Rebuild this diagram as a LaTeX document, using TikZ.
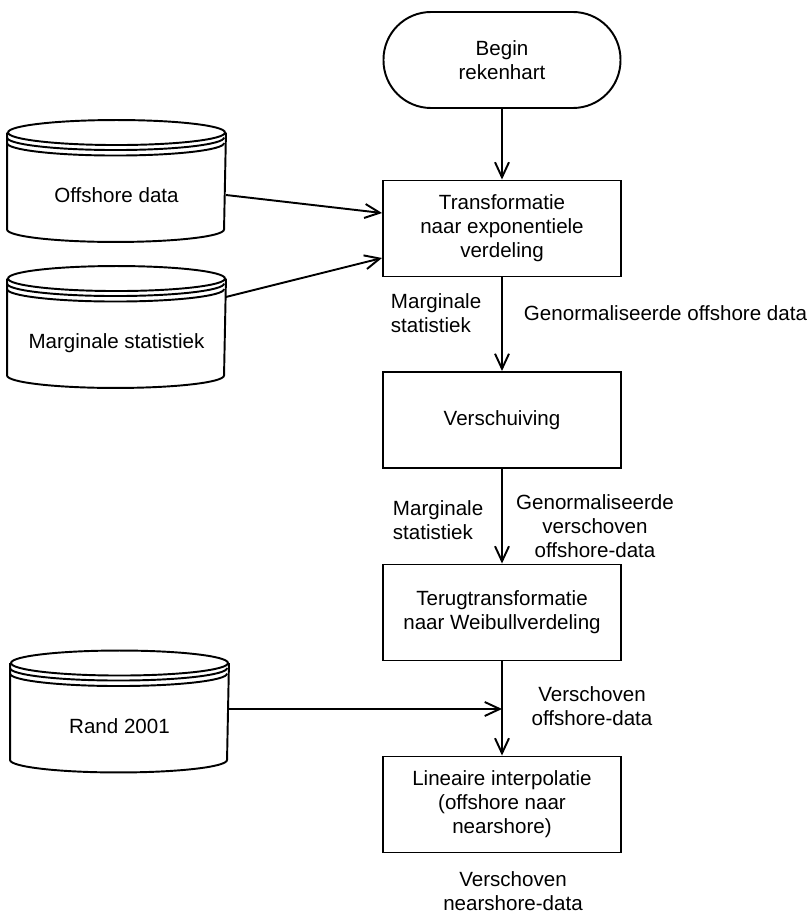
\documentclass[tikz,border=0pt]{standalone}
\usepackage{fontspec}
\setmainfont{Liberation Sans}
\usetikzlibrary{arrows.meta}

\begin{document}
\begin{tikzpicture}[font=\fontsize{11.7}{13.7}\selectfont, line width=1.1pt,
  >={Straight Barb[length=0.3cm,width=0.28cm]},
  mybox/.style={draw,minimum width=4.76cm,minimum height=1.92cm,align=center},
  mystart/.style={mybox,minimum width=4.74cm,rounded corners=0.95cm},
  mydb/.style={minimum width=4.34cm,minimum height=2.4cm,inner sep=0pt,text height=1cm,text depth=0.12cm},
  mylabel/.style={inner sep=0pt,align=left},
  myflow/.style={inner sep=0pt,align=center}]
\useasboundingbox (0,0) rectangle (16.14,18.26);
\node [mystart] (begin) at (10.04,17.06) {Begin\\rekenhart};
\node [mybox] (transf) at (10.04,13.69) {Transformatie\\naar exponentiele\\verdeling};
\node [mybox] (versch) at (10.04,9.86) {Verschuiving};
\node [mybox] (terug) at (10.04,6.01) {Terugtransformatie\\naar Weibullverdeling};
\node [mybox] (interp) at (10.04,2.17) {Lineaire interpolatie\\(offshore naar\\nearshore)};
  \foreach \db/\xpos/\ypos/\txt in {offshore/2.33/14.64/Offshore data,marg/2.33/11.72/Marginale statistiek,rand/2.39/4.03/Rand 2001}
  {  \node [mydb] (\db) at (\xpos,\ypos) {\txt};
     \draw ([yshift=-0.25cm]\db.north) ellipse [x radius=2.17cm,y radius=0.25cm];
     \draw ([yshift=-0.35cm]\db.north west) arc [start angle=180,end angle=360,x radius=2.17cm,y radius=0.25cm];
     \draw ([yshift=-0.46cm]\db.north west) arc [start angle=180,end angle=360,x radius=2.17cm,y radius=0.25cm];
     \draw ([yshift=-0.25cm]\db.north west) -- ([yshift=0.25cm]\db.south west)
       arc [start angle=180,end angle=360,x radius=2.17cm,y radius=0.25cm] -- ([yshift=-0.25cm]\db.north east);}
\node [mylabel,anchor=west] (marg1) at (7.8,12.0) {Marginale\\statistiek};
\node [mylabel,anchor=west] (norm1) at (10.46,12.0) {Genormaliseerde offshore data};
\node [mylabel,anchor=west] (marg2) at (7.84,7.86) {Marginale\\statistiek};
\node [myflow] (norm2) at (11.9,7.74) {Genormaliseerde\\verschoven\\offshore-data};
\node [myflow] (shift1) at (11.84,4.13) {Verschoven\\offshore-data};
\node [myflow] (shift2) at (10.26,0.43) {Verschoven\\nearshore-data};
\draw [->] (begin) -- (transf);
\draw [->] (transf) -- (versch);
\draw [->] (versch) -- (terug);
\draw [->] (terug) -- (interp);
\draw [->] ([yshift=-0.28cm]offshore.east) -- ([yshift=0.31cm]transf.west);
\draw [->] ([yshift=0.6cm]marg.east) -- ([yshift=-0.59cm]transf.west);
\coordinate (join) at ([yshift=0.05cm]rand.east -| interp.north);
\draw [->] ([yshift=0.05cm]rand.east) -- (join);
\end{tikzpicture}
\end{document}
